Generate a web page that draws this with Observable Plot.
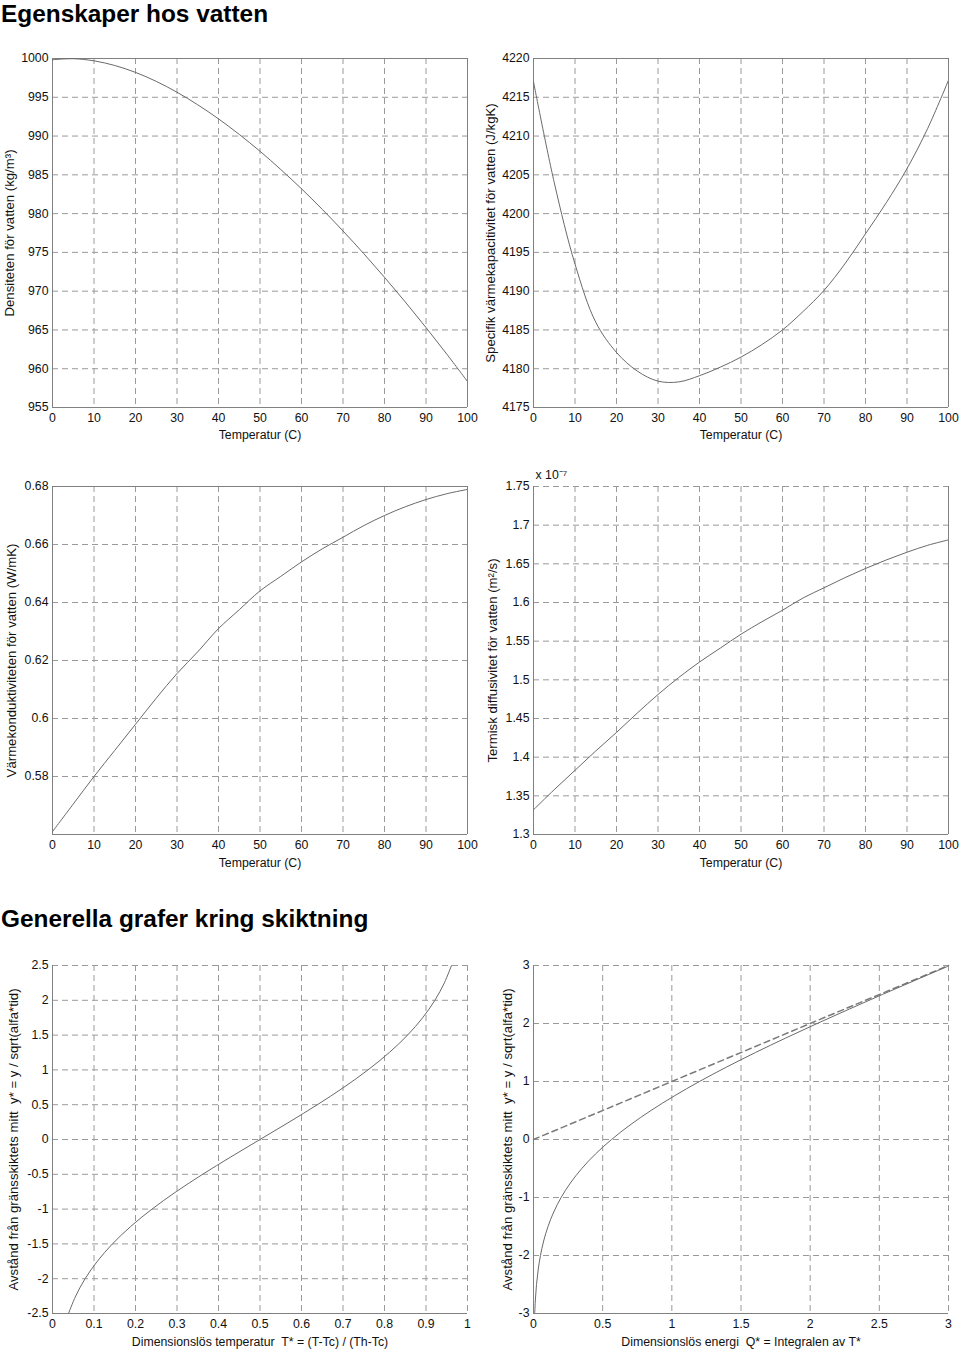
<!DOCTYPE html>
<html><head><meta charset="utf-8">
<script src="https://cdn.jsdelivr.net/npm/d3@7"></script>
<script src="https://cdn.jsdelivr.net/npm/@observablehq/plot@0.6"></script>
<style>
body{margin:0;background:#fff;font-family:"Liberation Sans",Arial,sans-serif;}
#page{position:relative;width:960px;height:1351px;overflow:hidden;background:#fff;}
.h{position:absolute;left:1px;font-weight:bold;font-size:24.4px;line-height:24px;color:#000;white-space:nowrap;}
.c{position:absolute;}
</style></head><body><div id="page">
<div class="h" style="top:1.5px">Egenskaper hos vatten</div>
<div class="h" style="top:906.5px">Generella grafer kring skiktning</div>
</div>
<script>
// ---- data ----
const temperature = [0,5,10,15,20,25,30,35,40,45,50,55,60,65,70,75,80,85,90,95,100];
const density = [999.84,999.97,999.70,999.10,998.21,997.05,995.65,994.03,992.22,990.21,988.04,985.69,983.20,980.55,977.76,974.84,971.79,968.61,965.31,961.89,958.35];
const specificHeat = [4217,4204,4193.5,4186,4182.1,4179.7,4178.4,4178.3,4179.1,4180.2,4181.5,4183.1,4185,4187.4,4190.1,4193.5,4197.4,4201.4,4205.8,4211,4217.2];
const conductivity = [0.561,0.5705,0.580,0.589,0.598,0.607,0.6155,0.623,0.631,0.6375,0.644,0.649,0.654,0.6585,0.6625,0.6665,0.670,0.673,0.6755,0.6775,0.679];
const diffusivity = [1.332,1.358,1.383,1.408,1.432,1.457,1.481,1.503,1.523,1.541,1.559,1.575,1.590,1.606,1.619,1.632,1.644,1.655,1.665,1.674,1.681]; // x 1e-7

const yStarT = [-2.5,-2.25,-2,-1.75,-1.5,-1.25,-1,-0.75,-0.5,-0.25,0,0.25,0.5,0.75,1,1.25,1.5,1.75,2,2.25,2.5];
const tStar = [0.0386,0.0558,0.0786,0.108,0.1444,0.1884,0.2398,0.2979,0.3618,0.4298,0.5,0.5702,0.6382,0.7021,0.7602,0.8116,0.8556,0.892,0.9214,0.9442,0.9614];

const yStarQ = [-3,-2.75,-2.5,-2.25,-2,-1.75,-1.5,-1.25,-1,-0.75,-0.5,-0.25,0,0.25,0.5,0.75,1,1.25,1.5,1.75,2,2.25,2.5,2.75,3];
const qStar = [0.0087,0.0140,0.0217,0.0336,0.0503,0.0734,0.1049,0.1463,0.1996,0.2668,0.3491,0.4479,0.5642,0.6980,0.8491,1.0168,1.1996,1.3963,1.6049,1.8234,2.0503,2.2837,2.5217,2.7640,3.0087];
const refQ = [0,3];
const refY = [0,3];

// ---- tick labels ----
const tempTicks = [0,10,20,30,40,50,60,70,80,90,100];
const densityTicks = [955,960,965,970,975,980,985,990,995,1000];
const heatTicks = [4175,4180,4185,4190,4195,4200,4205,4210,4215,4220];
const condTicks = [0.58,0.6,0.62,0.64,0.66,0.68];
const diffTicks = [1.3,1.35,1.4,1.45,1.5,1.55,1.6,1.65,1.7,1.75];
const tStarTicks = [0,0.1,0.2,0.3,0.4,0.5,0.6,0.7,0.8,0.9,1];
const yStarTTicks = [-2.5,-2,-1.5,-1,-0.5,0,0.5,1,1.5,2,2.5];
const qTicks = [0,0.5,1,1.5,2,2.5,3];
const yStarQTicks = [-3,-2,-1,0,1,2,3];

const LINE = "#6a6a6a", GRID = "#9a9a9a", FRAME = "#808080", DASH = "6,4";

function chart(o) {
  const rows = o.xs.map((x, i) => ({x, y: o.ys[i]}));
  const marks = [
    Plot.gridX(o.xTicks, {stroke: GRID, strokeOpacity: 1, strokeDasharray: DASH}),
    Plot.gridY(o.yTicks, {stroke: GRID, strokeOpacity: 1, strokeDasharray: DASH}),
  ];
  const sides = o.sides || ["left","bottom","top","right"];
  if (sides.includes("left")) marks.push(Plot.ruleX([o.xDomain[0]], {stroke: FRAME}));
  if (sides.includes("right")) marks.push(Plot.ruleX([o.xDomain[1]], {stroke: FRAME}));
  if (sides.includes("bottom")) marks.push(Plot.ruleY([o.yDomain[0]], {stroke: FRAME}));
  if (sides.includes("top")) marks.push(Plot.ruleY([o.yDomain[1]], {stroke: FRAME}));
  if (o.extra) marks.push(...o.extra);
  marks.push(Plot.line(rows, {x: "x", y: "y", stroke: LINE, strokeWidth: 1, curve: "catmull-rom", clip: true}));
  marks.push(Plot.axisX({ticks: o.xTicks, tickSize: 0, tickPadding: 6, tickFormat: d => String(d), label: null, fontSize: 12.3}));
  marks.push(Plot.axisY({ticks: o.yTicks, tickSize: 0, tickPadding: 4, tickFormat: d => String(d), label: null, fontSize: 12.3}));
  marks.push(Plot.text([o.xLabel], {frameAnchor: "bottom", dy: o.xLabelDy, text: d => d, fontSize: 12.3, textAnchor: "middle", lineAnchor: "middle", fill: "#111"}));
  marks.push(Plot.text([o.yLabel], {frameAnchor: "left", dx: o.yLabelX - o.mL, rotate: -90, text: d => d, fontSize: 13.2, textAnchor: "middle", lineAnchor: "middle", fill: "#111"}));
  if (o.note) marks.push(...o.note);
  const svg = Plot.plot({
    width: o.width, height: o.height,
    marginLeft: o.mL, marginRight: o.mR, marginTop: o.mT, marginBottom: o.mB,
    x: {domain: o.xDomain}, y: {domain: o.yDomain},
    style: {fontFamily: "Liberation Sans, Arial, sans-serif", fontSize: "12px", color: "#111", background: "transparent", overflow: "visible"},
    marks
  });
  const div = document.createElement("div");
  div.className = "c";
  div.style.left = o.left + "px";
  div.style.top = o.top + "px";
  div.appendChild(svg);
  document.getElementById("page").appendChild(div);
}

chart({left: 0, top: 40, width: 480, height: 420, mL: 52, mR: 13, mT: 18, mB: 53,
  xs: temperature, ys: density, xDomain: [0,100], yDomain: [955,1000],
  xTicks: tempTicks, yTicks: densityTicks,
  xLabel: "Temperatur (C)", xLabelDy: 28, yLabel: "Densiteten för vatten (kg/m³)", yLabelX: 9});

chart({left: 480, top: 40, width: 480, height: 420, mL: 53, mR: 12, mT: 18, mB: 53,
  xs: temperature, ys: specificHeat, xDomain: [0,100], yDomain: [4175,4220],
  xTicks: tempTicks, yTicks: heatTicks,
  xLabel: "Temperatur (C)", xLabelDy: 28, yLabel: "Specifik värmekapacitivitet för vatten (J/kgK)", yLabelX: 10});

chart({left: 0, top: 460, width: 480, height: 420, mL: 52, mR: 13, mT: 26, mB: 46,
  xs: temperature, ys: conductivity, xDomain: [0,100], yDomain: [0.56,0.68],
  xTicks: tempTicks, yTicks: condTicks,
  xLabel: "Temperatur (C)", xLabelDy: 29, yLabel: "Värmekonduktiviteten för vatten (W/mK)", yLabelX: 11.5});

chart({left: 480, top: 460, width: 480, height: 420, mL: 53, mR: 12, mT: 26, mB: 46,
  xs: temperature, ys: diffusivity, xDomain: [0,100], yDomain: [1.3,1.75],
  xTicks: tempTicks, yTicks: diffTicks, sides: ["left","bottom","right"],
  xLabel: "Temperatur (C)", xLabelDy: 29, yLabel: "Termisk diffusivitet för vatten (m²/s)", yLabelX: 12.5,
  note: [Plot.text(["x 10⁻⁷"], {frameAnchor: "top-left", dx: 2, dy: -11, textAnchor: "start", lineAnchor: "middle", text: d => d, fontSize: 12.3, fill: "#111"})]});

chart({left: 0, top: 945, width: 480, height: 406, mL: 52, mR: 13, mT: 20, mB: 38,
  xs: tStar, ys: yStarT, xDomain: [0,1], yDomain: [-2.5,2.5],
  xTicks: tStarTicks, yTicks: yStarTTicks, sides: ["left","bottom"],
  xLabel: "Dimensionslös temperatur  T* = (T-Tc) / (Th-Tc)", xLabelDy: 28.5,
  yLabel: "Avstånd från gränsskiktets mitt  y* = y / sqrt(alfa*tid)", yLabelX: 13.5});

chart({left: 480, top: 945, width: 480, height: 406, mL: 53, mR: 12, mT: 20, mB: 38,
  xs: qStar, ys: yStarQ, xDomain: [0,3], yDomain: [-3,3],
  xTicks: qTicks, yTicks: yStarQTicks, sides: ["left","bottom"],
  extra: [Plot.line(refQ.map((q, i) => ({q, y: refY[i]})), {x: "q", y: "y", stroke: "#7a7a7a", strokeDasharray: DASH})],
  xLabel: "Dimensionslös energi  Q* = Integralen av T*", xLabelDy: 28.5,
  yLabel: "Avstånd från gränsskiktets mitt  y* = y / sqrt(alfa*tid)", yLabelX: 27.5});
</script>
</body></html>
